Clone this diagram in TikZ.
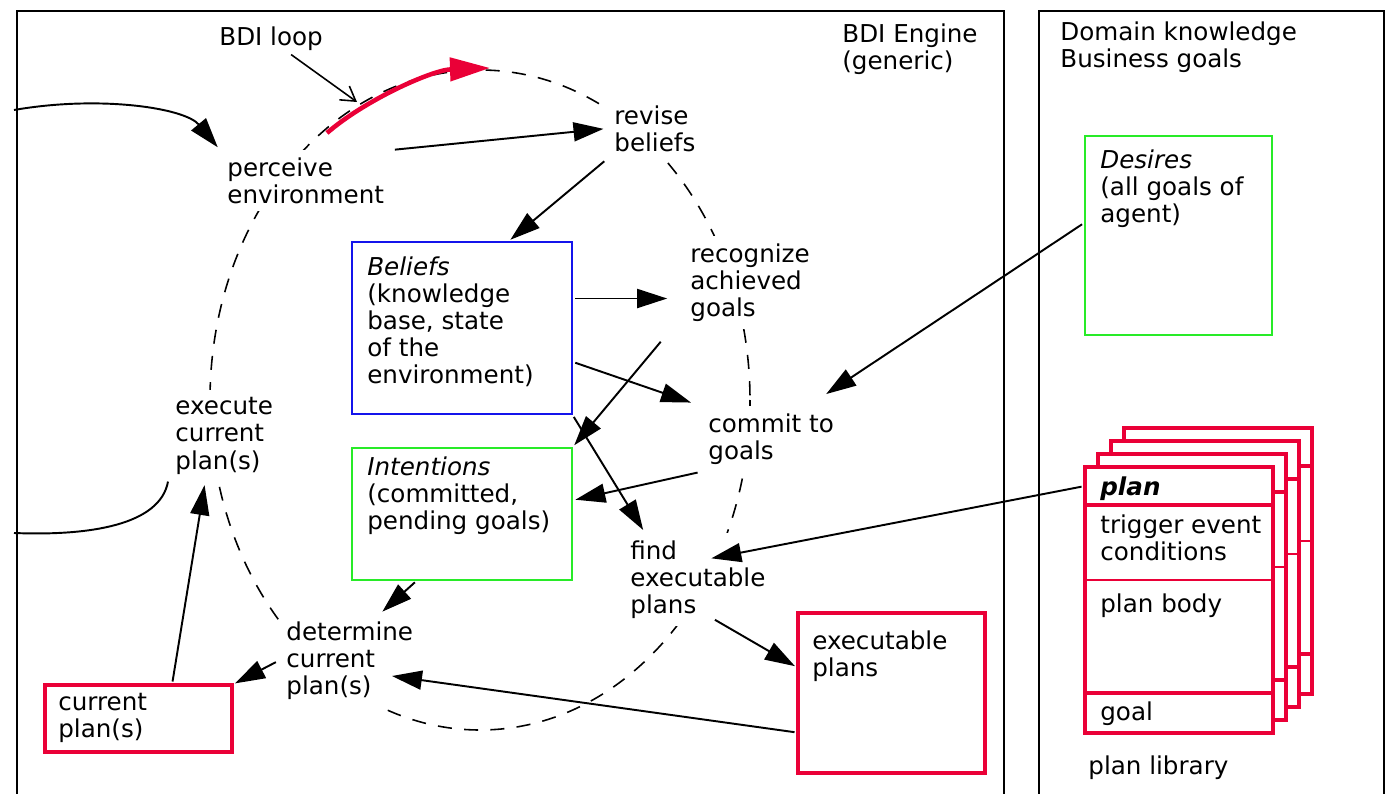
\documentclass[tikz,border=0pt]{standalone}
\usepackage{fontspec}
\setmainfont{DejaVu Sans}
\usetikzlibrary{arrows.meta}

\definecolor{planred}{RGB}{234,0,55}
\definecolor{goalgreen}{RGB}{40,235,40}
\definecolor{beliefblue}{RGB}{20,20,235}

\begin{document}
\begin{tikzpicture}[x=0.02cm, y=-0.02cm,
    font=\fontsize{14}{15.5}\selectfont,
    lbl/.style={align=left, anchor=north west, fill=white, inner sep=4pt},
    boxtxt/.style={align=left, anchor=north west, inner sep=0pt},
    bx/.style={draw, anchor=north west, inner sep=0pt, outer sep=0pt, line width=1.2pt},
    card/.style={bx, draw=planred, fill=white, line width=2pt,
        minimum width=3.76cm, minimum height=5.32cm},
    conn/.style={line width=1.1pt, -{Triangle[length=6mm,width=3.8mm]},
        shorten >=2pt, shorten <=2pt},
    panel/.style={line width=1.1pt},
    loopline/.style={line width=0.9pt, dash pattern=on 8pt off 7pt}]
    \useasboundingbox (0,0) rectangle (1387,794);

    % Panels
    \draw[panel] (17,794) |- (1004,11) -- (1004,794);
    \draw[panel] (1039,794) |- (1384,11) -- (1384,794);

    % BDI loop (dashed) with red direction arc
    \coordinate (loopc) at (480,400);
    \draw[loopline] (loopc) ellipse [x radius=270, y radius=330];
    \coordinate (redStart) at (327,133);
    \coordinate (redEnd) at (490,68);
    \draw[planred, line width=2.6pt, -{Triangle[length=8mm,width=4.6mm]}]
        (redStart) .. controls (365,100) and (432,70) .. (redEnd);

    % Steps of the loop
    \node[lbl] (perceive) at (220,150) {perceive\\environment};
    \node[lbl] (revise) at (607,98) {revise\\beliefs};
    \node[lbl] (recognize) at (683,236) {recognize\\achieved\\goals};
    \node[lbl] (commit) at (701,406) {commit to\\goals};
    \node[lbl] (execute) at (168,390) {execute\\current\\plan(s)};
    \node[lbl] (find) at (623,533) {find\\executable\\plans};
    \node[lbl] (determine) at (279,614) {determine\\current\\plan(s)};

    % Titles
    \node[lbl] (loopLbl) at (212,19) {BDI loop};
    \node[lbl] (engine) at (835,16) {BDI Engine\\(generic)};
    \node[lbl] (domain) at (1053,14) {Domain knowledge\\Business goals};

    % Stores
    \node[bx, draw=beliefblue, minimum width=4.4cm, minimum height=3.44cm] (beliefs) at (352,242) {};
    \node[boxtxt] (beliefsTxt) at (367,256) {\textit{Beliefs}\\(knowledge\\base, state\\of the\\environment)};
    \node[bx, draw=goalgreen, minimum width=4.4cm, minimum height=2.64cm] (intentions) at (352,448) {};
    \node[boxtxt] (intentTxt) at (367,456) {\textit{Intentions}\\(committed,\\pending goals)};
    \node[bx, draw=planred, line width=2pt, minimum width=3.74cm, minimum height=1.34cm] (curplan) at (45,685) {};
    \node[boxtxt] (curplanTxt) at (58,693) {current\\plan(s)};
    \node[bx, draw=planred, line width=2pt, minimum width=3.74cm, minimum height=3.2cm] (execplans) at (798,613) {};
    \node[boxtxt] (execTxt) at (812,630) {executable\\plans};
    \node[bx, draw=goalgreen, minimum width=3.74cm, minimum height=3.98cm] (desires) at (1085,136) {};
    \node[boxtxt] (desiresTxt) at (1100,149) {\textit{Desires}\\(all goals of\\agent)};

    % Plan library (stacked cards)
    \foreach \k in {3,2,1,0} {
        \node[card] (card\k) at ({1085+13*\k},{467-13*\k}) {};
        \draw[planred, line width=2pt] ([yshift=-0.76cm]card\k.north west) -- ([yshift=-0.76cm]card\k.north east);
        \draw[planred, line width=0.8pt] ([yshift=-2.26cm]card\k.north west) -- ([yshift=-2.26cm]card\k.north east);
        \draw[planred, line width=2pt] ([yshift=-4.52cm]card\k.north west) -- ([yshift=-4.52cm]card\k.north east);
    }
    \node[boxtxt] (planTxt) at (1100,476) {\textbf{\textit{plan}}};
    \node[boxtxt] (trigTxt) at (1100,514) {trigger event\\conditions};
    \node[boxtxt] (bodyTxt) at (1100,593) {plan body};
    \node[boxtxt] (goalTxt) at (1100,701) {goal};
    \node[lbl] (library) at (1081,748) {plan library};

    % Environment in and out
    \coordinate (envIn) at (14,110);
    \coordinate (envOut) at (14,533);
    \draw[conn, shorten <=0pt] (envIn) .. controls (100,95) and (185,108) .. (perceive.north west);
    \draw[line width=1.1pt] (execute.south west) .. controls (160,525) and (90,536) .. (envOut);

    % Loop label pointer
    \coordinate (loopPt) at (357,102);
    \draw[line width=0.9pt, -{Straight Barb[length=2.8mm,width=3.4mm]}]
        ([shift={(20,-3)}]loopLbl.south) -- (loopPt);

    % Flow between steps and stores
    \draw[conn] (perceive.north east) -- (revise.west);
    \draw[conn] (revise.south west) -- (beliefs.62);
    \draw[conn, shorten >=9pt] (beliefs.15) -- (beliefs.15 -| recognize.west);
    \draw[conn, shorten >=6pt] (beliefs.-17) -- (commit.north west);
    \draw[conn] ([shift={(-20,10)}]recognize.south west) -- (intentions.north east);
    \draw[conn] (beliefs.south east) -- ([shift={(22,0)}]find.north west);
    \draw[conn] (commit.south west) -- (intentions.7);
    \draw[conn] (intentions.236) -- ([shift={(30,0)}]determine.north);
    \draw[conn] (determine.west) -- (curplan.north east);
    \draw[conn] (curplan.45) -- ([shift={(-19,0)}]execute.south);
    \draw[conn] (execplans.203) -- ([shift={(-32,15)}]determine.east);
    \draw[conn] ([shift={(14,-8)}]find.south) -- (execplans.165);
    \draw[conn] (desires.172) -- ([shift={(-18,-10)}]commit.north east);
    \draw[conn] ([yshift=-0.38cm]card0.north west) -- ([shift={(10,26)}]find.north);
\end{tikzpicture}
\end{document}
